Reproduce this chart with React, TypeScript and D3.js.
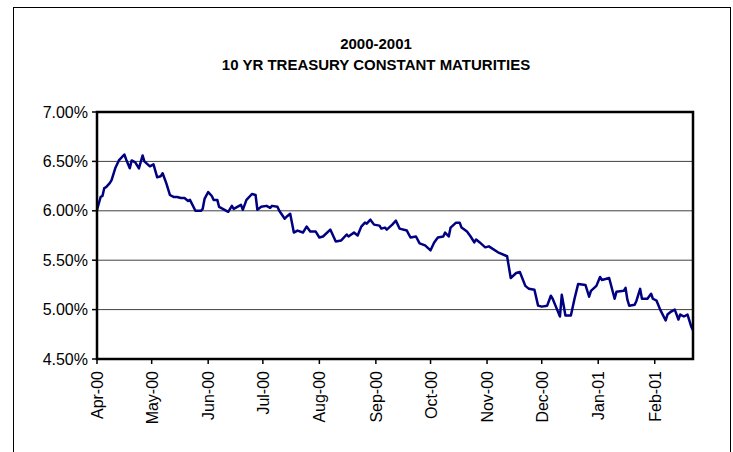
import React from 'react';
import * as d3 from 'd3';

// 10 yr treasury constant maturity
const dates = [
  '2000-04-01', '2000-04-03', '2000-04-04', '2000-04-05', '2000-04-06', '2000-04-08', '2000-04-09',
  '2000-04-11', '2000-04-13', '2000-04-16', '2000-04-17', '2000-04-19', '2000-04-20', '2000-04-22',
  '2000-04-24', '2000-04-26', '2000-04-27', '2000-04-30', '2000-05-02', '2000-05-04', '2000-05-06',
  '2000-05-07', '2000-05-09', '2000-05-11', '2000-05-13', '2000-05-15', '2000-05-17', '2000-05-19',
  '2000-05-21', '2000-05-22', '2000-05-25', '2000-05-28', '2000-05-29', '2000-05-30', '2000-06-01',
  '2000-06-03', '2000-06-04', '2000-06-06', '2000-06-07', '2000-06-09', '2000-06-12', '2000-06-14',
  '2000-06-15', '2000-06-18', '2000-06-19', '2000-06-20', '2000-06-22', '2000-06-24', '2000-06-25',
  '2000-06-27', '2000-06-28', '2000-06-30', '2000-07-03', '2000-07-05', '2000-07-06', '2000-07-09',
  '2000-07-10', '2000-07-13', '2000-07-14', '2000-07-16', '2000-07-18', '2000-07-20', '2000-07-23',
  '2000-07-25', '2000-07-27', '2000-07-30', '2000-08-01', '2000-08-03', '2000-08-07', '2000-08-10',
  '2000-08-13', '2000-08-16', '2000-08-17', '2000-08-20', '2000-08-22', '2000-08-24', '2000-08-26',
  '2000-08-27', '2000-08-29', '2000-08-31', '2000-09-03', '2000-09-04', '2000-09-06', '2000-09-07',
  '2000-09-10', '2000-09-12', '2000-09-14', '2000-09-18', '2000-09-20', '2000-09-23', '2000-09-25',
  '2000-09-28', '2000-10-01', '2000-10-03', '2000-10-05', '2000-10-08', '2000-10-09', '2000-10-11',
  '2000-10-12', '2000-10-15', '2000-10-17', '2000-10-18', '2000-10-21', '2000-10-23', '2000-10-25',
  '2000-10-26', '2000-10-28', '2000-10-31', '2000-11-02', '2000-11-07', '2000-11-12', '2000-11-14',
  '2000-11-17', '2000-11-19', '2000-11-22', '2000-11-24', '2000-11-27', '2000-11-29', '2000-12-01',
  '2000-12-04', '2000-12-06', '2000-12-07', '2000-12-09', '2000-12-11', '2000-12-12', '2000-12-14',
  '2000-12-17', '2000-12-19', '2000-12-21', '2000-12-25', '2000-12-27', '2000-12-28', '2000-12-31',
  '2001-01-02', '2001-01-03', '2001-01-05', '2001-01-07', '2001-01-10', '2001-01-11', '2001-01-15',
  '2001-01-16', '2001-01-17', '2001-01-18', '2001-01-21', '2001-01-22', '2001-01-24', '2001-01-25',
  '2001-01-28', '2001-01-30', '2001-01-31', '2001-02-02', '2001-02-04', '2001-02-07', '2001-02-08',
  '2001-02-10', '2001-02-12', '2001-02-14', '2001-02-15', '2001-02-17', '2001-02-19', '2001-02-21',
  '2001-02-22',
];

const yields = [
  6.01, 6.14, 6.15, 6.23, 6.24, 6.28, 6.31,
  6.43, 6.51, 6.57, 6.52, 6.43, 6.51, 6.49,
  6.43, 6.56, 6.50, 6.45, 6.47, 6.34, 6.35,
  6.38, 6.28, 6.16, 6.14, 6.14, 6.13, 6.13,
  6.10, 6.11, 6.00, 6.00, 6.02, 6.12, 6.19,
  6.15, 6.11, 6.11, 6.04, 6.02, 5.99, 6.05,
  6.02, 6.05, 6.06, 6.01, 6.11, 6.15, 6.17,
  6.16, 6.01, 6.04, 6.05, 6.03, 6.05, 6.04,
  6.00, 5.92, 5.94, 5.97, 5.78, 5.80, 5.78,
  5.84, 5.79, 5.79, 5.73, 5.74, 5.81, 5.69,
  5.70, 5.76, 5.74, 5.78, 5.75, 5.84, 5.88,
  5.87, 5.91, 5.86, 5.85, 5.82, 5.83, 5.81,
  5.86, 5.90, 5.82, 5.80, 5.73, 5.74, 5.67,
  5.65, 5.60, 5.68, 5.73, 5.74, 5.78, 5.74,
  5.83, 5.88, 5.88, 5.83, 5.79, 5.74, 5.68,
  5.71, 5.68, 5.63, 5.64, 5.58, 5.54, 5.32,
  5.37, 5.38, 5.24, 5.21, 5.20, 5.04, 5.03,
  5.04, 5.14, 5.11, 5.02, 4.93, 5.15, 4.94,
  4.94, 5.11, 5.26, 5.25, 5.13, 5.19, 5.24,
  5.33, 5.30, 5.31, 5.32, 5.11, 5.18, 5.19,
  5.22, 5.10, 5.04, 5.05, 5.09, 5.21, 5.11,
  5.11, 5.16, 5.11, 5.09, 5.00, 4.89, 4.95,
  4.98, 5.00, 4.90, 4.95, 4.93, 4.95, 4.83,
  4.79,
];

const yTicks = [4.5, 5.0, 5.5, 6.0, 6.5, 7.0];
const monthTicks = [
  '2000-04-01', '2000-05-01', '2000-06-01', '2000-07-01', '2000-08-01', '2000-09-01',
  '2000-10-01', '2000-11-01', '2000-12-01', '2001-01-01', '2001-02-01',
];
const titleLines = ['2000-2001', '10 YR TREASURY CONSTANT MATURITIES'];

const W = 733, H = 452;
const plot = { left: 97, right: 693, top: 112, bottom: 359 };
const font = 'Liberation Sans, Arial, sans-serif';

export default function App() {
  const parse = d3.utcParse('%Y-%m-%d');
  const fmt = d3.utcFormat('%b-%y');
  const points = dates.map((d, i) => ({ date: parse(d) as Date, value: yields[i] }));

  const x = d3.scaleUtc()
    .domain([parse('2000-04-01') as Date, parse('2001-02-22') as Date])
    .range([plot.left, plot.right]);
  const y = d3.scaleLinear().domain([4.5, 7.0]).range([plot.bottom, plot.top]);

  const line = d3.line<{ date: Date; value: number }>()
    .x(d => x(d.date))
    .y(d => y(d.value));

  return (
    <svg width={W} height={H} style={{ position: 'absolute', left: 0, top: 0, background: '#fff' }}>
      <rect x={13.5} y={7.5} width={717} height={460} fill="#fff" stroke="#000" strokeWidth={1} />

      {titleLines.map((t, i) => (
        <text key={t} x={376} y={49 + i * 21} textAnchor="middle"
          fontFamily={font} fontWeight="bold" fontSize={15}>{t}</text>
      ))}

      {/* gridlines */}
      {yTicks.slice(1, -1).map(v => (
        <line key={v} x1={plot.left} x2={plot.right} y1={y(v)} y2={y(v)} stroke="#404040" strokeWidth={1} />
      ))}

      {/* y axis ticks + labels */}
      {yTicks.map(v => (
        <g key={v}>
          <line x1={plot.left - 5} x2={plot.left} y1={y(v)} y2={y(v)} stroke="#000" strokeWidth={1.5} />
          <text x={88} y={y(v)} dy="0.35em" textAnchor="end" fontFamily={font} fontSize={16}>
            {v.toFixed(2)}%
          </text>
        </g>
      ))}

      {/* x axis ticks + labels */}
      {monthTicks.map(m => {
        const d = parse(m) as Date;
        const px = x(d);
        return (
          <g key={m}>
            <line x1={px} x2={px} y1={plot.bottom} y2={plot.bottom + 5} stroke="#000" strokeWidth={1.5} />
            <text transform={`translate(${px + 6},${plot.bottom + 12}) rotate(-90)`} textAnchor="end"
              fontFamily={font} fontSize={16}>{fmt(d)}</text>
          </g>
        );
      })}

      <path d={line(points) || ''} fill="none" stroke="#000080" strokeWidth={2.5} strokeLinejoin="round" />

      <rect x={plot.left} y={plot.top} width={plot.right - plot.left} height={plot.bottom - plot.top}
        fill="none" stroke="#000" strokeWidth={2.5} />
    </svg>
  );
}
